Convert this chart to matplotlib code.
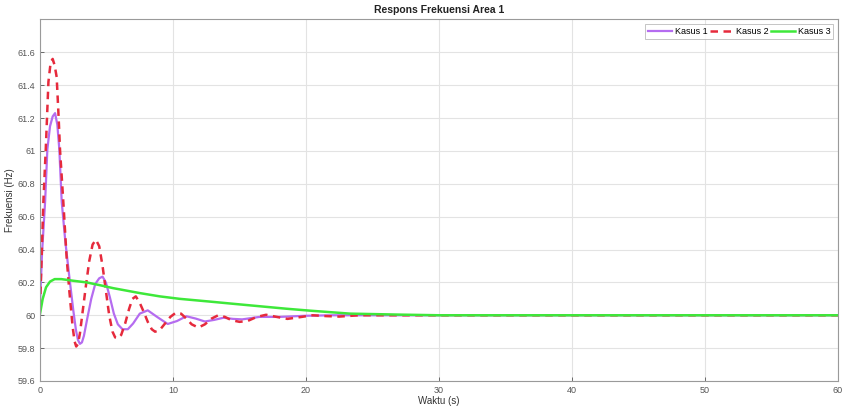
import matplotlib.pyplot as plt
from matplotlib.ticker import FuncFormatter

# Kasus 1 (ungu)
t1 = [0, 0.15, 0.38, 0.55, 0.75, 0.95, 1.13, 1.3, 1.45, 1.63, 1.9, 2.25, 2.5, 2.7,
      2.85, 3.0, 3.15, 3.3, 3.55, 3.85, 4.15, 4.45, 4.7, 4.95, 5.25, 5.55, 5.85, 6.2,
      6.6, 7.0, 7.5, 8.1, 8.8, 9.6, 10.3, 11.0, 11.7, 12.4, 13.1, 13.8, 14.5, 15.2,
      16.5, 18, 20, 22, 30, 60]
f1 = [60.08, 60.38, 60.69, 61.01, 61.15, 61.21, 61.23, 61.16, 61.01, 60.69, 60.45,
      60.2, 60.03, 59.91, 59.85, 59.826, 59.835, 59.875, 59.98, 60.1, 60.19, 60.225,
      60.235, 60.2, 60.11, 60.01, 59.945, 59.915, 59.915, 59.95, 60.01, 60.03, 59.99,
      59.947, 59.965, 59.994, 59.98, 59.962, 59.972, 59.985, 59.978, 59.975, 59.99,
      59.99, 59.997, 60.0, 60.0, 60.0]

# Kasus 2 (merah putus-putus)
t2 = [0, 0.1, 0.25, 0.43, 0.63, 0.8, 0.95, 1.1, 1.25, 1.4, 1.5, 1.75, 2.0, 2.2,
      2.45, 2.6, 2.72, 2.85, 3.0, 3.2, 3.45, 3.7, 3.95, 4.2, 4.45, 4.7, 4.95, 5.2,
      5.45, 5.65, 5.85, 6.1, 6.4, 6.7, 6.95, 7.2, 7.5, 7.8, 8.1, 8.4, 8.65, 9.0, 9.4,
      9.8, 10.2, 10.6, 11.0, 11.4, 11.9, 12.4, 12.9, 13.4, 13.9, 14.4, 15.0, 15.6,
      16.3, 17.0, 17.8, 18.6, 19.5, 20.5, 21.5, 22.5, 24, 30, 60]
f2 = [60.05, 60.3, 60.69, 61.01, 61.42, 61.54, 61.56, 61.52, 61.45, 61.2, 61.01,
      60.69, 60.35, 60.15, 59.93, 59.84, 59.81, 59.825, 59.89, 60.02, 60.18, 60.33,
      60.43, 60.46, 60.42, 60.3, 60.15, 60.0, 59.9, 59.865, 59.86, 59.88, 59.95,
      60.04, 60.1, 60.115, 60.075, 60.02, 59.96, 59.915, 59.9, 59.91, 59.95, 59.99,
      60.015, 60.01, 59.98, 59.945, 59.925, 59.945, 59.98, 60.0, 59.99, 59.97, 59.96,
      59.965, 59.99, 60.003, 59.99, 59.978, 59.988, 60.0, 59.995, 59.992, 60.0,
      60.0, 60.0]

# Kasus 3 (hijau)
t3 = [0, 0.2, 0.45, 0.75, 1.1, 1.6, 2.5, 3.5, 4.5, 5.5, 6.5, 7.5, 9, 10.5, 12.8,
      14.5, 16.5, 18.5, 20.3, 23.3, 27, 30, 60]
f3 = [60.01, 60.1, 60.17, 60.205, 60.22, 60.22, 60.21, 60.2, 60.183, 60.165, 60.15,
      60.135, 60.115, 60.1, 60.083, 60.07, 60.055, 60.04, 60.028, 60.01, 60.004,
      60.0, 60.0]

plt.rcParams['font.family'] = ['Liberation Sans', 'DejaVu Sans']

fig = plt.figure(figsize=(8.43, 4.11), dpi=100)
ax = fig.add_axes([0.0475, 0.073, 0.9465, 0.8796])

ax.plot(t1, f1, color='#b56cf0', lw=1.6, label='Kasus 1')
ax.plot(t2, f2, color='#e62a3c', lw=1.8, ls=(0, (3, 2.2)), label='Kasus 2')
ax.plot(t3, f3, color='#3ee83a', lw=1.8, label='Kasus 3')

ax.set_xlim(0, 60)
ax.set_ylim(59.6, 61.8)
ax.set_xticks(range(0, 61, 10))
ax.set_yticks([59.6 + 0.2 * i for i in range(11)])
ax.yaxis.set_major_formatter(FuncFormatter(lambda v, p: ('%.1f' % v).rstrip('0').rstrip('.')))
ax.grid(True, color='#e3e3e3', lw=0.8)
ax.tick_params(direction='in', labelsize=6.5, colors='#555555', length=3, width=0.6)
for s in ax.spines.values():
    s.set_color('#9a9a9a')
    s.set_linewidth(0.8)

ax.set_title('Respons Frekuensi Area 1', fontsize=7.5, fontweight='bold', color='#222222', pad=5)
ax.set_xlabel('Waktu (s)', fontsize=7, color='#333333', labelpad=1)
ax.set_ylabel('Frekuensi (Hz)', fontsize=7, color='#333333', labelpad=2)

leg = ax.legend(loc='upper right', ncol=3, fontsize=6.5, frameon=True, fancybox=False,
                handlelength=2.6, columnspacing=0.3, handletextpad=0.3,
                borderpad=0.35, borderaxespad=0.5)
leg.get_frame().set_edgecolor('#aaaaaa')
leg.get_frame().set_linewidth(0.6)

fig.savefig('out.png', dpi=100)
